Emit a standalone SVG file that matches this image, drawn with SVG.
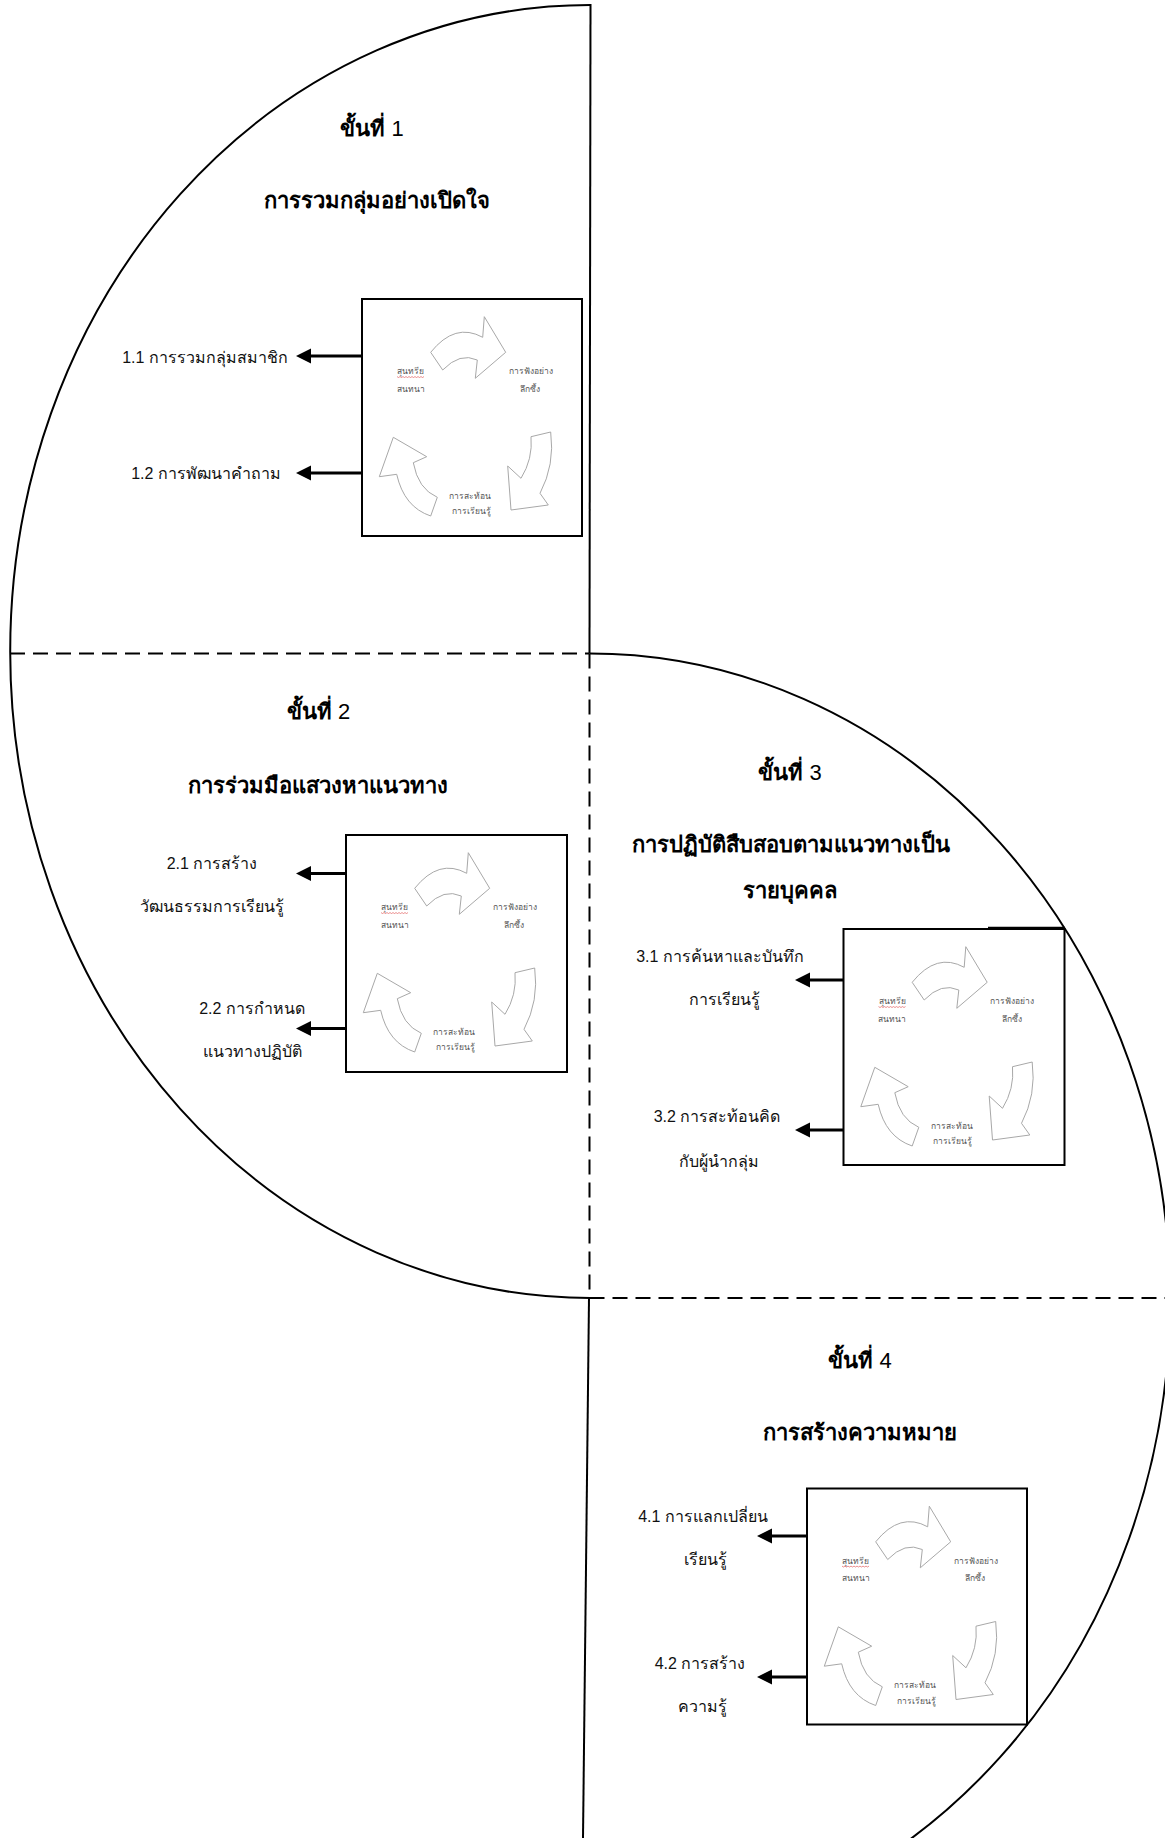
<svg xmlns="http://www.w3.org/2000/svg" width="1165" height="1838" viewBox="0 0 1165 1838">
<style>
.ln{fill:none;stroke:#000;stroke-width:2}
.dash{fill:none;stroke:#000;stroke-width:2;stroke-dasharray:15 8}
.box{fill:#fff;stroke:#000;stroke-width:2}
.arr{fill:none;stroke:#000;stroke-width:3;marker-end:url(#ah)}
text{font-family:"Liberation Sans","Noto Sans","DejaVu Sans",sans-serif;fill:#000}
.tt{font-size:22px;font-weight:bold;text-anchor:middle}
.tt tspan.n{font-weight:normal}
.lb{font-size:16px;text-anchor:middle;fill:#111}
.cy{fill:#fff;stroke:#a8a8a8;stroke-width:1}
.ct{font-size:8.5px;fill:#555;text-anchor:middle}
</style>
<defs>
<marker id="ah" markerUnits="userSpaceOnUse" markerWidth="16" markerHeight="16" refX="5" refY="7.5" orient="auto">
<path d="M0,0 L15,7.5 L0,15 Z" fill="#000"/>
</marker>
<g id="cycle">
<path class="cy" d="M68.7,53.3 Q93,23 120.7,38.3 L122.3,17.7 L143.7,53.3 L113.3,79.3 L115.3,61 Q98,53 80.7,71 Z"/>
<path class="cy" d="M169,137.7 L188.7,133 Q193,166 178,194.3 L186.3,206 L149,211 L145.7,167 L159,179.3 Q171,160 169,137.7 Z"/>
<path class="cy" d="M31.3,138.3 L17.3,177.7 L34.7,175.3 Q42,208 68.7,217 L75.3,198.3 Q56,190 51.3,163.7 L64.7,157.7 Z"/>
<text class="ct" x="48.5" y="75.3">สุนทรีย</text>
<path d="M35,77.6 l1.5,0.9 l1.5,-0.9 l1.5,0.9 l1.5,-0.9 l1.5,0.9 l1.5,-0.9 l1.5,0.9 l1.5,-0.9 l1.5,0.9 l1.5,-0.9 l1.5,0.9 l1.5,-0.9 l1.5,0.9 l1.5,-0.9 l1.5,0.9 l1.5,-0.9 l1.5,0.9 l1.5,-0.9" fill="none" stroke="#d44" stroke-width="0.6"/>
<text class="ct" x="48.5" y="92.7">สนทนา</text>
<text class="ct" x="168.5" y="75.3">การฟังอย่าง</text>
<text class="ct" x="168" y="92.7">ลึกซึ้ง</text>
<text class="ct" x="108" y="199.7">การสะท้อน</text>
<text class="ct" x="109" y="215">การเรียนรู้</text>
</g>
</defs>

<g id="frame">
<path class="ln" d="M590,5 A580,646.5 0 0 0 590,1298"/>
<path class="ln" d="M590,653.5 A580,646.5 0 0 1 590,1946.5"/>
<path class="ln" d="M590.5,4 L589.5,653.5"/>
<path class="dash" d="M589.5,653.5 L589.5,1298"/>
<path class="ln" d="M589,1298 L583,1838"/>
<path class="dash" d="M10,653.5 L589.5,653.5"/>
<path class="dash" d="M589.5,1298 L1165,1298"/>
</g>

<g id="stage1">
<text class="tt" x="372" y="136">ขั้นที่ <tspan class="n">1</tspan></text>
<text class="tt" x="377" y="208">การรวมกลุ่มอย่างเปิดใจ</text>
<rect class="box" x="362" y="299" width="220" height="237"/>
<use href="#cycle" transform="translate(362,299)"/>
<text class="lb" x="205" y="363">1.1 การรวมกลุ่มสมาชิก</text>
<text class="lb" x="206" y="479">1.2 การพัฒนาคำถาม</text>
</g>

<g id="stage2">
<text class="tt" x="318.5" y="719">ขั้นที่ <tspan class="n">2</tspan></text>
<text class="tt" x="317.5" y="793">การร่วมมือแสวงหาแนวทาง</text>
<rect class="box" x="346" y="835" width="221" height="237"/>
<use href="#cycle" transform="translate(346,835)"/>
<text class="lb" x="212" y="869">2.1 การสร้าง</text>
<text class="lb" x="212" y="912">วัฒนธรรมการเรียนรู้</text>
<text class="lb" x="252" y="1014">2.2 การกำหนด</text>
<text class="lb" x="252" y="1057">แนวทางปฏิบัติ</text>
</g>

<g id="stage3">
<text class="tt" x="790" y="780">ขั้นที่ <tspan class="n">3</tspan></text>
<text class="tt" x="790.5" y="852">การปฏิบัติสืบสอบตามแนวทางเป็น</text>
<text class="tt" x="790" y="898">รายบุคคล</text>
<rect class="box" x="843.5" y="929" width="221" height="236"/>
<path class="ln" d="M988,927.8 L1065,927.8"/>
<use href="#cycle" transform="translate(843.5,929)"/>
<text class="lb" x="720" y="962">3.1 การค้นหาและบันทึก</text>
<text class="lb" x="724" y="1005">การเรียนรู้</text>
<text class="lb" x="717" y="1122">3.2 การสะท้อนคิด</text>
<text class="lb" x="719" y="1167">กับผู้นำกลุ่ม</text>
</g>

<g id="stage4">
<text class="tt" x="860" y="1368">ขั้นที่ <tspan class="n">4</tspan></text>
<text class="tt" x="860" y="1440">การสร้างความหมาย</text>
<rect class="box" x="807" y="1488.5" width="220" height="236"/>
<use href="#cycle" transform="translate(807,1488.5)"/>
<text class="lb" x="703" y="1522">4.1 การแลกเปลี่ยน</text>
<text class="lb" x="705" y="1565">เรียนรู้</text>
<text class="lb" x="700" y="1669">4.2 การสร้าง</text>
<text class="lb" x="702" y="1712">ความรู้</text>
</g>

<g id="connectors">
<line class="arr" x1="362" y1="356" x2="306" y2="356"/>
<line class="arr" x1="362" y1="473" x2="306" y2="473"/>
<line class="arr" x1="346" y1="873.5" x2="306" y2="873.5"/>
<line class="arr" x1="346" y1="1028.5" x2="306" y2="1028.5"/>
<line class="arr" x1="843.5" y1="980" x2="805" y2="980"/>
<line class="arr" x1="843.5" y1="1130" x2="805" y2="1130"/>
<line class="arr" x1="807" y1="1536" x2="767" y2="1536"/>
<line class="arr" x1="807" y1="1677" x2="767" y2="1677"/>
</g>
</svg>
